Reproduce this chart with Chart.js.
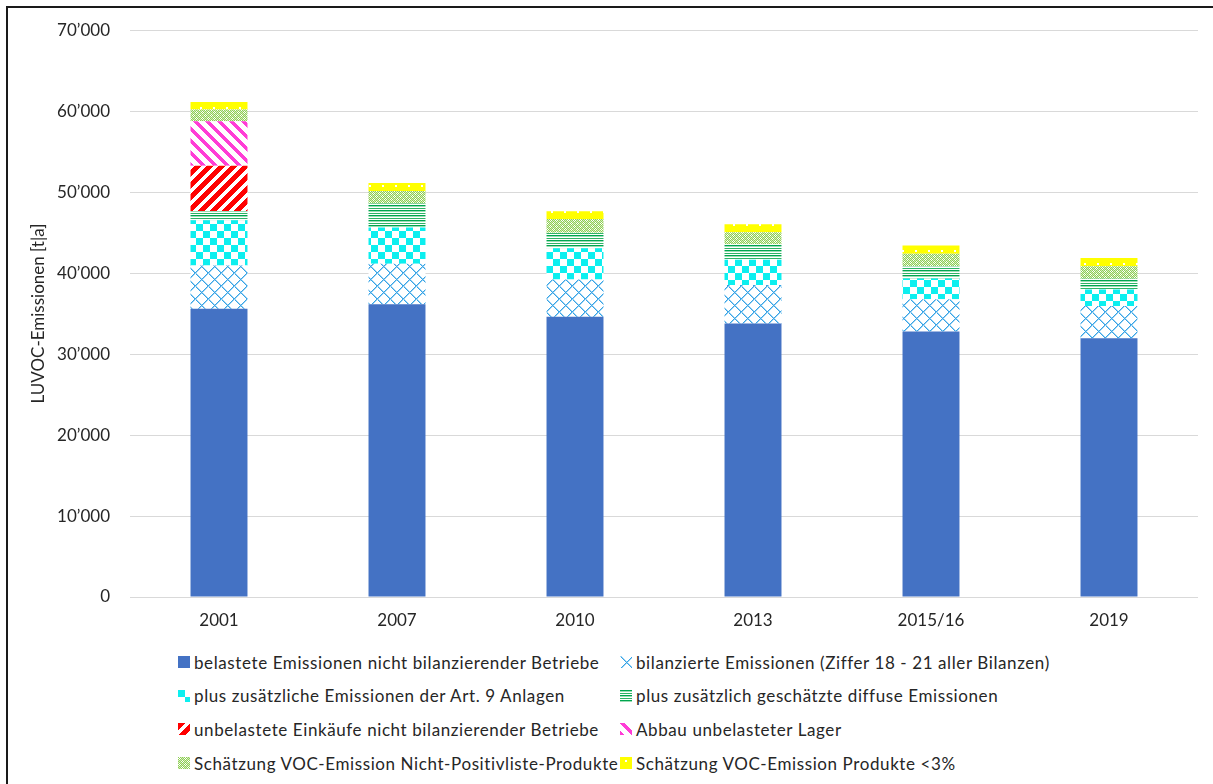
<!DOCTYPE html>
<html>
<head>
<meta charset="utf-8">
<script src="https://cdn.jsdelivr.net/npm/chart.js@4.4.1/dist/chart.umd.min.js"></script>
<style>
  body { margin: 0; background: #fff; font-family: Lato, sans-serif; }
  #wrap { position: relative; width: 1213px; height: 784px; overflow: hidden; }
  #frame { position: absolute; left: 6px; top: 6px; width: 1400px; height: 1000px;
           border-left: 2px solid #1a1a1a; border-top: 2px solid #1a1a1a; }
  #chart { position: absolute; left: 0; top: 0; }
  .item { position: absolute; height: 20px; display: flex; align-items: center;
          font-size: 17px; letter-spacing: 0.6px; color: #262626; white-space: nowrap; }
  .item canvas { width: 12px; height: 12px; margin-right: 4px; }
</style>
</head>
<body>
<div id="wrap">
  <div id="frame"></div>
  <canvas id="chart" width="1213" height="640"></canvas>
  <div id="legend"></div>
</div>
<script>
// categories and values (t/a)
const years = ['2001', '2007', '2010', '2013', '2015/16', '2019'];
const belasteteEmissionen = [35600, 36150, 34600, 33780, 32800, 31950];
const bilanzierteEmissionen = [5350, 5010, 4600, 4740, 3960, 4000];
const art9Anlagen = [5580, 4460, 3880, 3130, 2570, 2030];
const diffuseEmissionen = [1150, 2970, 1920, 1920, 1510, 1310];
const unbelasteteEinkaeufe = [5580, 0, 0, 0, 0, 0];
const abbauLager = [5510, 0, 0, 0, 0, 0];
const nichtPositivliste = [1430, 1560, 1670, 1470, 1550, 1550];
const produkteUnter3 = [940, 980, 980, 980, 1030, 1020];
const yTicks = [0, 10000, 20000, 30000, 40000, 50000, 60000, 70000];

const seriesNames = [
    'belastete Emissionen nicht bilanzierender Betriebe',
    'bilanzierte Emissionen (Ziffer 18 - 21 aller Bilanzen)',
    'plus zusätzliche Emissionen der Art. 9 Anlagen',
    'plus zusätzlich geschätzte diffuse Emissionen',
    'unbelastete Einkäufe nicht bilanzierender Betriebe',
    'Abbau unbelasteter Lager',
    'Schätzung VOC-Emission Nicht-Positivliste-Produkte',
    'Schätzung VOC-Emission Produkte <3%'
];
const seriesValues = [belasteteEmissionen, bilanzierteEmissionen, art9Anlagen, diffuseEmissionen,
    unbelasteteEinkaeufe, abbauLager, nichtPositivliste, produkteUnter3];

/**
 * Builds a small tile canvas, white background, painted by the given callback.
 */
function makeTile(w, h, paint) {
    const c = document.createElement('canvas');
    c.width = w;
    c.height = h;
    const g = c.getContext('2d');
    g.fillStyle = '#fff';
    g.fillRect(0, 0, w, h);
    paint(g, w, h);
    return c;
}

function px(g, x, y, color) {
    g.fillStyle = color;
    g.fillRect(x, y, 1, 1);
}

// hatch tiles imitating the Excel fill patterns
const tiles = [
    makeTile(4, 4, g => { g.fillStyle = '#4472C4'; g.fillRect(0, 0, 4, 4); }),
    makeTile(13, 13, g => {
        for (let i = 0; i < 13; i++) {
            px(g, i, i, '#36A3E6');
            px(g, (i + 1) % 13, i, '#9CD3F3');
            px(g, 12 - i, i, '#36A3E6');
            px(g, (13 - i) % 13, i, '#9CD3F3');
        }
    }),
    makeTile(14, 14, g => {
        g.fillStyle = '#0CEFEF';
        g.fillRect(0, 0, 7, 7);
        g.fillRect(7, 7, 7, 7);
    }),
    makeTile(4, 5, g => {
        g.fillStyle = '#00A54F'; g.fillRect(0, 0, 4, 1);
        g.fillStyle = '#9BDDB4'; g.fillRect(0, 1, 4, 1);
        g.fillStyle = '#2DB565'; g.fillRect(0, 3, 4, 1);
    }),
    makeTile(12, 12, g => {
        for (let y = 0; y < 12; y++)
            for (let x = 0; x < 12; x++)
                if ((x + y) % 12 < 7) px(g, x, y, '#FF0000');
    }),
    makeTile(12, 12, g => {
        for (let y = 0; y < 12; y++)
            for (let x = 0; x < 12; x++)
                if ((x - y + 12) % 12 < 5) px(g, x, y, '#FF3DD6');
    }),
    makeTile(6, 6, g => {
        for (let y = 0; y < 6; y++)
            for (let x = 0; x < 6; x++) {
                if ((x + y) % 2 === 0) px(g, x, y, '#8FCF55');
                else if ((x % 6 < 3) !== (y % 6 < 3)) px(g, x, y, '#D3ECBD');
            }
    }),
    makeTile(13, 13, g => {
        g.fillStyle = '#FFFF00';
        g.fillRect(0, 0, 13, 13);
        g.fillStyle = '#fff';
        g.fillRect(5, 3, 2, 2);
    })
];

const ctx = document.getElementById('chart').getContext('2d');
const fills = tiles.map(t => ctx.createPattern(t, 'repeat'));

function formatThousands(v) {
    return String(v).replace(/\B(?=(\d{3})+(?!\d))/g, '\u2019');
}

const datasets = seriesNames.map((name, i) => ({
    label: name,
    data: seriesValues[i],
    backgroundColor: fills[i],
    borderWidth: 0,
    categoryPercentage: 1,
    barPercentage: 0.32
}));

const chart = new Chart(ctx, {
    type: 'bar',
    data: { labels: years, datasets: datasets },
    options: {
        responsive: false,
        animation: false,
        // top label half-height (~10px) is added on top of this padding
        layout: { padding: { left: 8, top: 16, right: 15, bottom: 0 } },
        plugins: {
            legend: { display: false },
            tooltip: { enabled: false }
        },
        scales: {
            x: {
                stacked: true,
                grid: { display: false, drawTicks: false },
                border: { display: false },
                ticks: { padding: 13, color: '#262626', font: { family: 'Lato', size: 17 } },
                afterFit: scale => { scale.height = 43; }
            },
            y: {
                stacked: true,
                min: 0,
                max: 70000,
                afterBuildTicks: scale => { scale.ticks = yTicks.map(v => ({ value: v })); },
                grid: { color: '#D9D9D9', lineWidth: 1, drawTicks: false },
                border: { display: false },
                ticks: {
                    padding: 20,
                    color: '#262626',
                    font: { family: 'Lato', size: 17 },
                    callback: v => formatThousands(v)
                },
                title: {
                    display: true,
                    text: 'LUVOC-Emissionen [t|a]',
                    color: '#262626',
                    font: { family: 'Lato', size: 17 },
                    padding: { top: 20, bottom: 0 }
                },
                afterFit: scale => { scale.width = 122; }
            }
        }
    }
});

// two-column legend below the chart, same fills as the bars
const legend = document.getElementById('legend');
seriesNames.forEach((name, i) => {
    const item = document.createElement('div');
    item.className = 'item';
    item.style.left = (i % 2 === 0 ? 178 : 620) + 'px';
    item.style.top = (652 + Math.floor(i / 2) * 33.7) + 'px';
    const sw = document.createElement('canvas');
    sw.width = 12;
    sw.height = 12;
    const sg = sw.getContext('2d');
    sg.fillStyle = sg.createPattern(tiles[i], 'repeat');
    sg.fillRect(0, 0, 12, 12);
    item.appendChild(sw);
    item.appendChild(document.createTextNode(name));
    legend.appendChild(item);
});
</script>
</body>
</html>
